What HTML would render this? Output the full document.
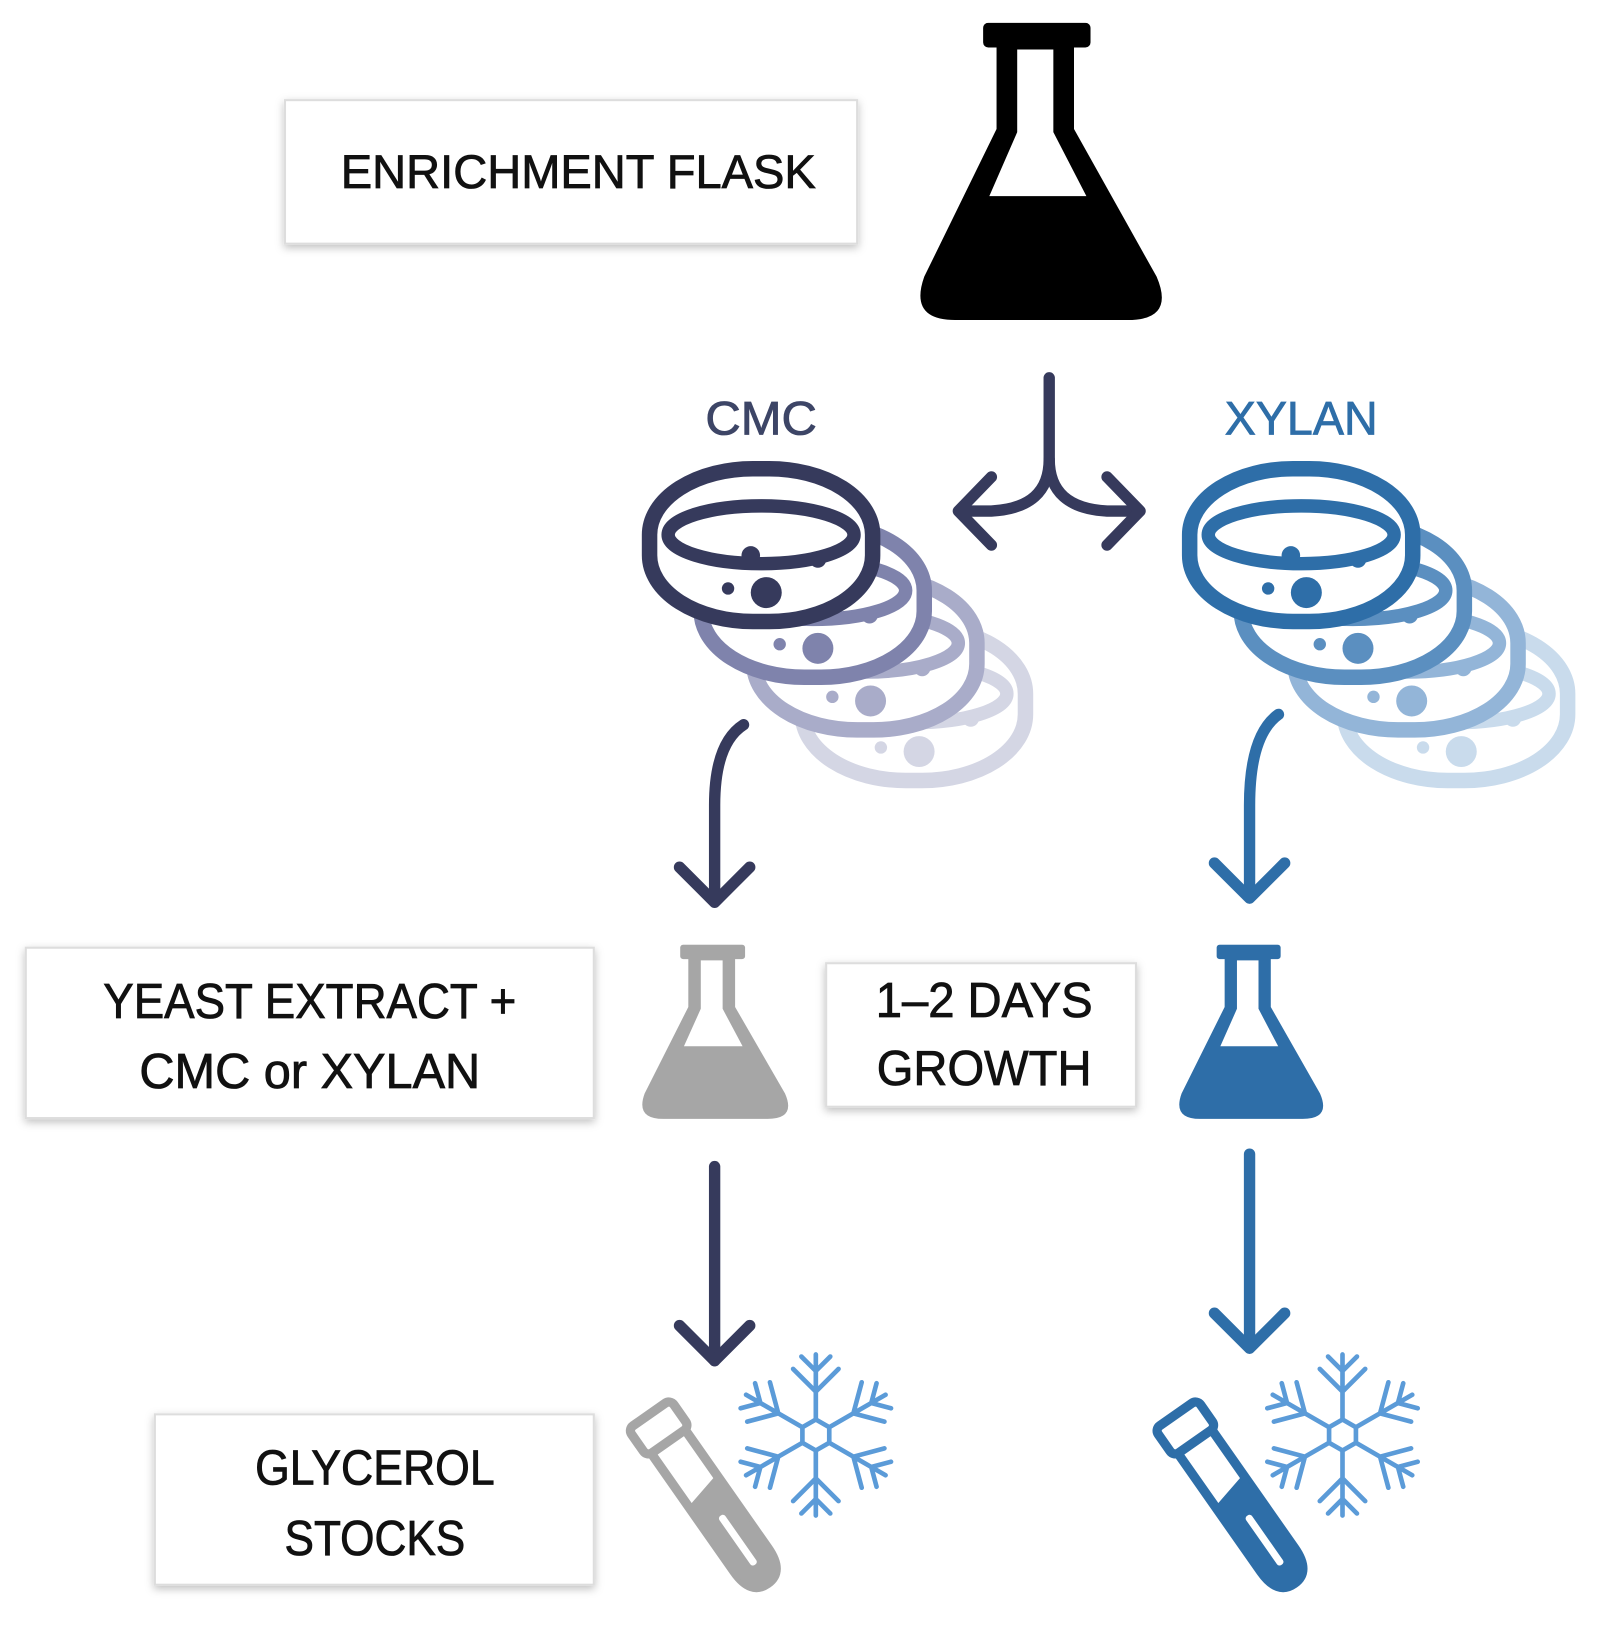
<!DOCTYPE html>
<html><head><meta charset="utf-8"><style>
html,body{margin:0;padding:0;background:#fff;}
svg{display:block;}
text{font-family:"Liberation Sans",sans-serif;}
</style></head><body>
<svg width="1611" height="1626" viewBox="0 0 1560 1575" preserveAspectRatio="none" xmlns="http://www.w3.org/2000/svg">
<defs>
<filter id="sh" x="-10%" y="-10%" width="120%" height="130%"><feDropShadow dx="0" dy="3" stdDeviation="4" flood-color="#000" flood-opacity="0.25"/></filter>
<symbol id="flask" viewBox="888 22 240 290" preserveAspectRatio="none">
<rect x="952" y="22" width="104" height="24" rx="5"/>
<path d="M965,44 L965,125 L895,268 Q880,310 925,310 L1092,310 Q1138,310 1120,268 L1040,125 L1040,44 Z"/>
<path d="M985,48 L1020,48 L1020,128 L1052,190 L958,190 L985,128 Z" fill="#fff"/>
</symbol>
<g id="dish">
<rect x="-108" y="-74" width="216" height="148" rx="100" ry="64" fill="#fff" stroke-width="15"/>
<ellipse cx="0" cy="-10" rx="90" ry="28" fill="none" stroke-width="13"/>
<circle cx="5" cy="46" r="15" stroke="none"/>
<circle cx="-32" cy="42" r="6" stroke="none"/>
<circle cx="-10" cy="10" r="9" stroke="none"/>
<circle cx="55" cy="14" r="8" stroke="none"/>
</g>
<g id="tube">
<rect x="-25" y="-100" width="50" height="32" rx="6" fill="none" stroke-width="9"/>
<path d="M-20,-68 L-20,72 Q-20,100 0,100 Q20,100 20,72 L20,-68" fill="none" stroke-width="9"/>
<path d="M-20,-5 L20,-15 L20,72 Q20,100 0,100 Q-20,100 -20,72 Z" stroke="none"/>
<rect x="-3" y="20" width="7" height="58" rx="3" fill="#fff" stroke="none"/>
</g>
<g id="snow" fill="none" stroke="#5b9bd8" stroke-width="4.5" stroke-linecap="round">
<polygon points="0,-15 13,-7.5 13,7.5 0,15 -13,7.5 -13,-7.5"/>
<g id="arm"><path d="M0,-15 L0,-78 M0,-62 L-14,-76 M0,-62 L14,-76 M0,-42 L-22,-64 M0,-42 L22,-64"/></g>
<use href="#arm" transform="rotate(60)"/><use href="#arm" transform="rotate(120)"/><use href="#arm" transform="rotate(180)"/><use href="#arm" transform="rotate(240)"/><use href="#arm" transform="rotate(300)"/>
</g>
</defs>

<g stroke="#111" stroke-width="0.8">
<rect x="276" y="97" width="554" height="139" fill="#fff" stroke="#ddd" stroke-width="2" filter="url(#sh)"/>
<text x="560" y="182" font-size="46" text-anchor="middle" textLength="460" lengthAdjust="spacingAndGlyphs" fill="#111">ENRICHMENT FLASK</text>

<rect x="25" y="918" width="550" height="165" fill="#fff" stroke="#ddd" stroke-width="2" filter="url(#sh)"/>
<text x="300" y="986" font-size="48" text-anchor="middle" textLength="400" lengthAdjust="spacingAndGlyphs" fill="#111">YEAST EXTRACT +</text>
<text x="300" y="1054" font-size="48" text-anchor="middle" textLength="330" lengthAdjust="spacingAndGlyphs" fill="#111">CMC or XYLAN</text>

<rect x="800" y="933" width="300" height="139" fill="#fff" stroke="#ddd" stroke-width="2" filter="url(#sh)"/>
<text x="953" y="985" font-size="48" text-anchor="middle" textLength="210" lengthAdjust="spacingAndGlyphs" fill="#111">1–2 DAYS</text>
<text x="953" y="1051" font-size="48" text-anchor="middle" textLength="208" lengthAdjust="spacingAndGlyphs" fill="#111">GROWTH</text>

<rect x="150" y="1370" width="425" height="165" fill="#fff" stroke="#ddd" stroke-width="2" filter="url(#sh)"/>
<text x="363" y="1438" font-size="48" text-anchor="middle" textLength="232" lengthAdjust="spacingAndGlyphs" fill="#111">GLYCEROL</text>
<text x="363" y="1506" font-size="48" text-anchor="middle" textLength="175" lengthAdjust="spacingAndGlyphs" fill="#111">STOCKS</text>
</g>

<use href="#flask" x="888" y="22" width="240" height="290" fill="#000"/>
<use href="#flask" x="620" y="915" width="145" height="170" fill="#a6a6a6"/>
<use href="#flask" x="1140" y="915" width="143" height="170" fill="#2e6ea8"/>

<g fill="none" stroke="#363a5c" stroke-width="11" stroke-linecap="round" stroke-linejoin="round">
<path d="M1016,366 L1016,445 Q1016,492 960,495 L930,495"/>
<path d="M1016,445 Q1016,492 1072,495 L1102,495"/>
<path d="M960,462 L928,495 L960,528"/>
<path d="M1072,462 L1104,495 L1072,528"/>
</g>

<text x="737" y="421" font-size="46" text-anchor="middle" textLength="108" lengthAdjust="spacingAndGlyphs" fill="#3d4566" stroke="#3d4566" stroke-width="0.8">CMC</text>
<text x="1260" y="421" font-size="46" text-anchor="middle" textLength="148" lengthAdjust="spacingAndGlyphs" fill="#2e6ea8" stroke="#2e6ea8" stroke-width="0.8">XYLAN</text>

<use href="#dish" transform="translate(885,682)" stroke="#d4d6e4" fill="#d4d6e4"/>
<use href="#dish" transform="translate(838,633)" stroke="#a9acc9" fill="#a9acc9"/>
<use href="#dish" transform="translate(787,582)" stroke="#7f83ac" fill="#7f83ac"/>
<use href="#dish" transform="translate(737,528)" stroke="#363a5c" fill="#363a5c"/>
<use href="#dish" transform="translate(1410,682)" stroke="#c9dbec" fill="#c9dbec"/>
<use href="#dish" transform="translate(1362,633)" stroke="#93b5d8" fill="#93b5d8"/>
<use href="#dish" transform="translate(1310,582)" stroke="#5b8fc0" fill="#5b8fc0"/>
<use href="#dish" transform="translate(1260,528)" stroke="#2e6ea8" fill="#2e6ea8"/>

<g fill="none" stroke-width="11" stroke-linecap="round" stroke-linejoin="round">
<g stroke="#363a5c">
<path d="M720,702 Q692,720 692,780 L692,872"/>
<path d="M658,840 L692,874 L726,840"/>
<path d="M692,1130 L692,1318"/>
<path d="M658,1284 L692,1318 L726,1284"/>
</g>
<g stroke="#2e6ea8">
<path d="M1238,692 Q1210,712 1210,780 L1210,868"/>
<path d="M1176,836 L1210,870 L1244,836"/>
<path d="M1210,1118 L1210,1305"/>
<path d="M1176,1272 L1210,1306 L1244,1272"/>
</g>
</g>

<use href="#tube" transform="translate(686,1452) rotate(-35)" stroke="#a6a6a6" fill="#a6a6a6"/>
<use href="#tube" transform="translate(1196,1452) rotate(-35)" stroke="#2e6ea8" fill="#2e6ea8"/>
<use href="#snow" transform="translate(790,1390)"/>
<use href="#snow" transform="translate(1300,1390)"/>
</svg>
</body></html>
